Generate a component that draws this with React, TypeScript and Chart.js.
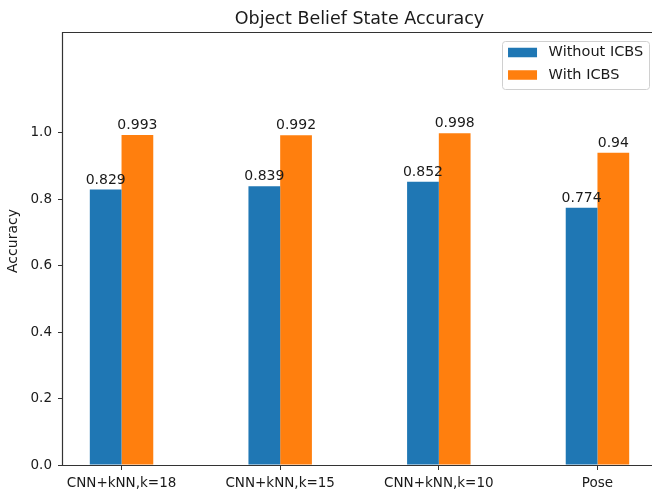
import React, { useEffect, useRef } from "react";
import { Chart, registerables } from "chart.js";

Chart.register(...registerables);

const categories = ["CNN+kNN,k=18", "CNN+kNN,k=15", "CNN+kNN,k=10", "Pose"];
const withoutICBS = [0.829, 0.839, 0.852, 0.774];
const withICBS = [0.993, 0.992, 0.998, 0.94];
const seriesNames = ["Without ICBS", "With ICBS"];
const seriesColors = ["#1f77b4", "#ff7f0e"];
const yTicks = [0, 0.2, 0.4, 0.6, 0.8, 1.0];
const yTitle = "Accuracy";

const FONT = "'DejaVu Sans', sans-serif";
const TEXT = "#1a1a1a";
const AXIS = "#333333";

const framePlugin = {
  id: "frame",
  afterDatasetsDraw(chart: any) {
    const { ctx, chartArea: a } = chart;
    const l = Math.round(a.left) - 0.5;
    const t = Math.round(a.top) - 0.5;
    const r = Math.round(a.right) + 0.5;
    const b = Math.round(a.bottom) + 0.5;
    ctx.save();
    ctx.strokeStyle = AXIS;
    ctx.lineWidth = 1.2;
    ctx.beginPath();
    ctx.moveTo(r, t);
    ctx.lineTo(l, t);
    ctx.lineTo(l, b);
    ctx.lineTo(r, b);
    ctx.lineTo(r, t);
    ctx.stroke();
    ctx.restore();
  },
};

const yTitlePlugin = {
  id: "yTitle",
  afterDraw(chart: any) {
    const { ctx, chartArea: a } = chart;
    ctx.save();
    ctx.font = `14px ${FONT}`;
    ctx.fillStyle = TEXT;
    ctx.textAlign = "center";
    ctx.textBaseline = "middle";
    ctx.translate(13.5, (a.top + a.bottom) / 2 - 8);
    ctx.rotate(-Math.PI / 2);
    ctx.fillText(yTitle, 0, 0);
    ctx.restore();
  },
};

const valueLabelPlugin = {
  id: "valueLabels",
  afterDatasetsDraw(chart: any) {
    const { ctx } = chart;
    ctx.save();
    ctx.font = `14px ${FONT}`;
    ctx.fillStyle = TEXT;
    ctx.textAlign = "center";
    ctx.textBaseline = "alphabetic";
    chart.data.datasets.forEach((ds: any, di: number) => {
      const meta = chart.getDatasetMeta(di);
      meta.data.forEach((el: any, i: number) => {
        const v = ds.data[i].y;
        ctx.fillText(String(v), el.x, el.y - 6);
      });
    });
    ctx.restore();
  },
};

const legendPlugin = {
  id: "mplLegend",
  afterDraw(chart: any) {
    const { ctx, chartArea: a } = chart;
    const fs = 14.5;
    ctx.save();
    ctx.font = `${fs}px ${FONT}`;
    const labels = chart.data.datasets.map((d: any) => d.label);
    const maxW = Math.max(...labels.map((l: string) => ctx.measureText(l).width));
    const pad = 0.4 * fs;
    const handle = 2 * fs;
    const textPad = 0.8 * fs;
    const rowH = 22.5;
    const w = pad + handle + textPad + maxW + pad;
    const h = 48;
    const right = a.right - 7;
    const left = right - w;
    const top = a.top + 8;
    ctx.fillStyle = "rgba(255,255,255,0.85)";
    ctx.strokeStyle = "#d0d0d0";
    ctx.lineWidth = 1;
    ctx.beginPath();
    (ctx as any).roundRect(Math.round(left) + 0.5, Math.round(top) + 0.5, Math.round(w), h, 3);
    ctx.fill();
    ctx.stroke();
    ctx.textAlign = "left";
    ctx.textBaseline = "middle";
    labels.forEach((l: string, i: number) => {
      const cy = top + 11.5 + i * rowH;
      ctx.fillStyle = chart.data.datasets[i].backgroundColor;
      ctx.fillRect(left + pad, cy - 4.75, handle, 9.5);
      ctx.fillStyle = TEXT;
      ctx.fillText(l, left + pad + handle + textPad, cy);
    });
    ctx.restore();
  },
};

export default function App() {
  const ref = useRef<HTMLCanvasElement | null>(null);

  useEffect(() => {
    if (!ref.current) return;
    const chart = new Chart(ref.current, {
      type: "bar",
      data: {
        datasets: [
          {
            label: seriesNames[0],
            data: withoutICBS.map((v, i) => ({ x: i, y: v })),
            backgroundColor: seriesColors[0],
            borderWidth: 0,
            categoryPercentage: 0.4,
            barPercentage: 1.0,
          },
          {
            label: seriesNames[1],
            data: withICBS.map((v, i) => ({ x: i, y: v })),
            backgroundColor: seriesColors[1],
            borderWidth: 0,
            categoryPercentage: 0.4,
            barPercentage: 1.0,
          },
        ],
      },
      options: {
        animation: false,
        responsive: false,
        layout: { padding: { left: 0, right: 62, top: 0, bottom: 0 } },
        plugins: {
          legend: { display: false },
          tooltip: { enabled: false },
          title: {
            display: true,
            fullSize: false,
            text: "Object Belief State Accuracy",
            color: TEXT,
            font: { family: FONT, size: 17.5, weight: "normal", lineHeight: 1.2 },
            padding: { top: 8.5, bottom: 3.5 },
          },
        },
        scales: {
          x: {
            type: "linear",
            offset: false,
            min: -0.369,
            max: 3.369,
            afterBuildTicks(scale: any) {
              scale.ticks = categories.map((_, i) => ({ value: i }));
            },
            afterFit(scale: any) {
              scale.height = 28;
            },
            ticks: {
              color: TEXT,
              font: { family: FONT, size: 13.5 },
              padding: 5,
              autoSkip: false,
              maxRotation: 0,
              callback: (v: any) => categories[Math.round(Number(v))] ?? "",
            },
            grid: { offset: false, drawOnChartArea: false, drawTicks: true, tickLength: 5, tickColor: AXIS },
            border: { display: false },
          },
          y: {
            min: 0,
            max: 1.3,
            afterBuildTicks(scale: any) {
              scale.ticks = yTicks.map((v) => ({ value: v }));
            },
            afterFit(scale: any) {
              scale.width = 63;
            },
            ticks: {
              color: TEXT,
              font: { family: FONT, size: 13.5 },
              padding: 6,
              callback: (v: any) => Number(v).toFixed(1),
            },
            grid: { drawOnChartArea: false, drawTicks: true, tickLength: 5, tickColor: AXIS },
            border: { display: false },
            title: { display: false },
          },
        },
      },
      plugins: [framePlugin, valueLabelPlugin, legendPlugin, yTitlePlugin],
    } as any);
    return () => chart.destroy();
  }, []);

  return (
    <div style={{ position: "fixed", left: 0, top: 0, width: 718, height: 493, background: "#fff" }}>
      <canvas ref={ref} width={718} height={493} />
    </div>
  );
}
